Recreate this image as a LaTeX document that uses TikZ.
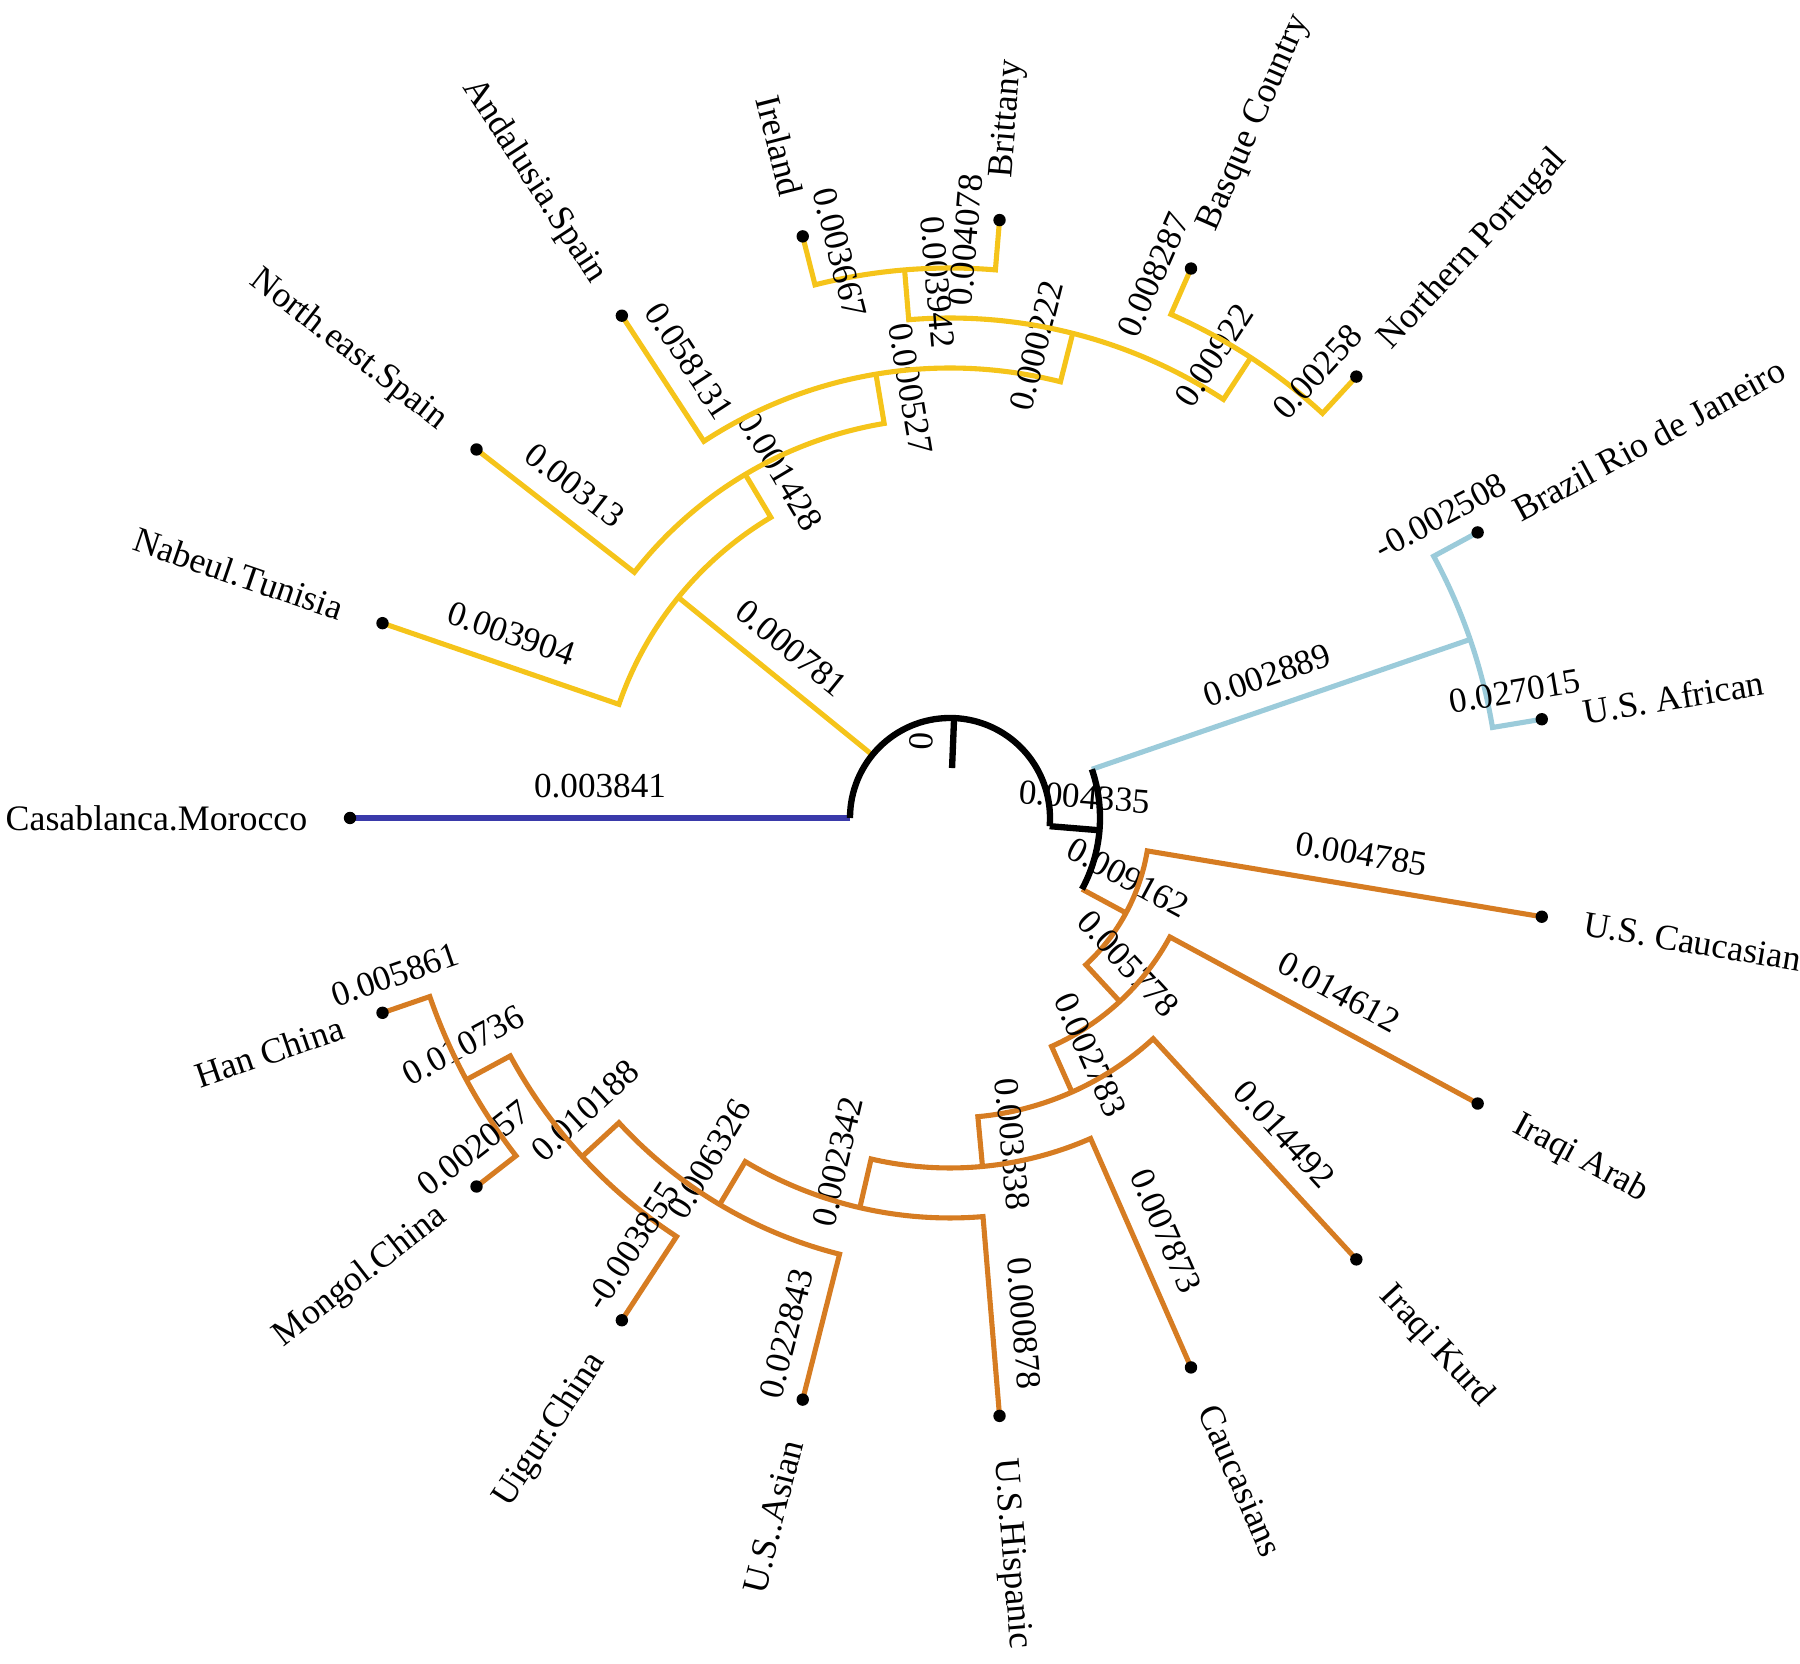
\documentclass[tikz,border=0pt]{standalone}
\usepackage{fontspec}
\setmainfont{Liberation Serif}
\definecolor{treeyellow}{RGB}{245,196,26}
\definecolor{treeorange}{RGB}{214,124,34}
\definecolor{treeltblue}{RGB}{155,203,218}
\definecolor{treedkblue}{RGB}{58,58,170}
\begin{document}
\begin{tikzpicture}[
  brl/.style={font=\fontsize{10}{12}\selectfont, sloped, above, inner sep=0pt, outer sep=0.2cm},
  leafl/.style={font=\fontsize{10.2}{12}\selectfont, inner sep=0pt},
  yel/.style={draw=treeyellow, line width=1.45pt},
  org/.style={draw=treeorange, line width=1.45pt},
  lbl/.style={draw=treeltblue, line width=1.45pt},
  cas/.style={draw=treedkblue, line width=1.6pt},
  blk/.style={draw=black, line width=1.8pt},
  tipdot/.style={fill=black}
]
\useasboundingbox (0,0) rectangle (18,-16.64);
\begin{scope}[shift={(9.5,-8.18)}]
% leaves
\coordinate (L0) at (180:6);
\coordinate (L1) at (161.0526:6);
\coordinate (L2) at (142.1053:6);
\coordinate (L3) at (123.1579:6);
\coordinate (L4) at (104.2105:6);
\coordinate (L5) at (85.2632:6);
\coordinate (L6) at (66.3158:6);
\coordinate (L7) at (47.3684:6);
\coordinate (L8) at (28.4211:6);
\coordinate (L9) at (9.4737:6);
\coordinate (L10) at (-9.4737:6);
\coordinate (L11) at (-28.4211:6);
\coordinate (L12) at (-47.3684:6);
\coordinate (L13) at (-66.3158:6);
\coordinate (L14) at (-85.2632:6);
\coordinate (L15) at (-104.2105:6);
\coordinate (L16) at (-123.1579:6);
\coordinate (L17) at (-142.1053:6);
\coordinate (L18) at (-161.0526:6);
% internal nodes
\coordinate (R) at (87.65:1.0);
\coordinate (R0) at (87.65:0.5);
\coordinate (Y1) at (140.9211:3.5);
\coordinate (Y2) at (120.7895:4.0);
\coordinate (Y3) at (99.4737:4.5);
\coordinate (Y4) at (75.7895:5.0);
\coordinate (Y5) at (94.7368:5.5);
\coordinate (Y6) at (56.8421:5.5);
\coordinate (BL) at (18.9474:5.5);
\coordinate (B2) at (-4.6998:1.5);
\coordinate (O1) at (-28.3470:2.0);
\coordinate (O2) at (-47.2204:2.5);
\coordinate (O3) at (-66.0197:3.0);
\coordinate (O4) at (-84.6711:3.5);
\coordinate (O5) at (-103.0263:4.0);
\coordinate (O6) at (-120.7895:4.5);
\coordinate (O7) at (-137.3684:5.0);
\coordinate (O8) at (-151.5789:5.5);

% root edges
\draw[cas] (180:1) -- node[brl,pos=0.5]{0.003841} (L0);
\draw[yel] (140.9211:1) -- node[brl,pos=0.52]{0.000781} (Y1);
% yellow clade
\draw[yel] (L1) -- node[brl,pos=0.5]{0.003904} (161.0526:3.5) arc[start angle=161.0526, end angle=120.7895, radius=3.5] -- node[brl,pos=0.7]{0.001428} (Y2);
\draw[yel] (L2) -- node[brl,pos=0.5]{0.00313} (142.1053:4.0) arc[start angle=142.1053, end angle=99.4737, radius=4.0] -- node[brl,pos=0.6]{0.000527} (Y3);
\draw[yel] (L3) -- node[brl,pos=0.5]{0.058131} (123.1579:4.5) arc[start angle=123.1579, end angle=75.7895, radius=4.5] -- node[brl,pos=0.58]{0.000222} (Y4);
\draw[yel] (Y5) -- node[brl,pos=0.3]{0.003942} (94.7368:5.0) arc[start angle=94.7368, end angle=56.8421, radius=5.0] -- node[brl,pos=0.64]{0.00922} (Y6);
\draw[yel] (L4) -- node[brl,pos=0.5]{0.003667} (104.2105:5.5) arc[start angle=104.2105, end angle=85.2632, radius=5.5] -- node[brl,pos=0.55]{0.004078} (L5);
\draw[yel] (L6) -- node[brl,pos=0.42]{0.008287} (66.3158:5.5) arc[start angle=66.3158, end angle=47.3684, radius=5.5] -- node[brl,pos=0.54]{0.00258} (L7);

% black part
\draw[lbl] (18.9474:1.5) -- node[brl,pos=0.49]{0.002889} (BL);
\draw[org] (-28.3470:1.5) -- node[brl,pos=0.7]{0.009162} (O1);
\draw[blk] (-4.6998:1) -- node[brl,pos=0.65]{0.004335} (B2);
\draw[blk] (18.9474:1.5) arc[start angle=18.9474, end angle=-28.3470, radius=1.5];
\draw[blk] (180:1) arc[start angle=180, end angle=-4.6998, radius=1];
\draw[blk] (R) -- node[brl,pos=0.5]{0} (R0);

% light blue clade
\draw[lbl] (L8) -- node[brl,pos=0.5]{-0.002508} (28.4211:5.5) arc[start angle=28.4211, end angle=9.4737, radius=5.5] -- node[brl,pos=0.56]{0.027015} (L9);

% orange clade
\draw[org] (L10) -- node[brl,pos=0.47]{0.004785} (-9.4737:2.0) arc[start angle=-9.4737, end angle=-47.2204, radius=2.0] -- node[brl,pos=0.56]{0.005778} (O2);
\draw[org] (L11) -- node[brl,pos=0.5]{0.014612} (-28.4211:2.5) arc[start angle=-28.4211, end angle=-66.0197, radius=2.5] -- node[brl,pos=0.47]{0.002783} (O3);
\draw[org] (L12) -- node[brl,pos=0.47]{0.014492} (-47.3684:3.0) arc[start angle=-47.3684, end angle=-84.6711, radius=3.0] -- node[brl,pos=0.61]{0.003338} (O4);
\draw[org] (L13) -- node[brl,pos=0.54]{0.007873} (-66.3158:3.5) arc[start angle=-66.3158, end angle=-103.0263, radius=3.5] -- node[brl,pos=0.2]{0.002342} (O5);
\draw[org] (L14) -- node[brl,pos=0.45]{0.000878} (-85.2632:4.0) arc[start angle=-85.2632, end angle=-120.7895, radius=4.0] -- node[brl,pos=0.33]{0.006326} (O6);
\draw[org] (L15) -- node[brl,pos=0.4]{0.022843} (-104.2105:4.5) arc[start angle=-104.2105, end angle=-137.3684, radius=4.5] -- node[brl,pos=0.34]{0.010188} (O7);
\draw[org] (L16) -- node[brl,pos=0.68]{-0.003855} (-123.1579:5.0) arc[start angle=-123.1579, end angle=-151.5789, radius=5.0] -- node[brl,pos=0.72]{0.010736} (O8);
\draw[org] (L17) -- node[brl,pos=0.42]{0.002057} (-142.1053:5.5) arc[start angle=-142.1053, end angle=-161.0526, radius=5.5] -- node[brl,pos=0.52]{0.005861} (L18);

% tip dots
\foreach \k in {0,...,18} { \fill[tipdot] (L\k) circle (0.062); }

% tip labels
\node[leafl, anchor=east, rotate=0] at (180:6.42) {Casablanca.Morocco};
\node[leafl, anchor=east, rotate=-18.9474] at (161.0526:6.42) {Nabeul.Tunisia};
\node[leafl, anchor=east, rotate=-37.8947] at (142.1053:6.42) {North.east.Spain};
\node[leafl, anchor=east, rotate=-56.8421] at (123.1579:6.42) {Andalusia.Spain};
\node[leafl, anchor=east, rotate=-75.7895] at (104.2105:6.42) {Ireland};
\node[leafl, anchor=west, rotate=85.2632] at (85.2632:6.42) {Brittany};
\node[leafl, anchor=west, rotate=66.3158] at (66.3158:6.42) {Basque Country};
\node[leafl, anchor=west, rotate=47.3684] at (47.3684:6.42) {Northern Portugal};
\node[leafl, anchor=west, rotate=28.4211] at (28.4211:6.42) {Brazil Rio de Janeiro};
\node[leafl, anchor=west, rotate=9.4737] at (9.4737:6.42) {U.S. African};
\node[leafl, anchor=west, rotate=-9.4737] at (-9.4737:6.42) {U.S. Caucasian};
\node[leafl, anchor=west, rotate=-28.4211] at (-28.4211:6.42) {Iraqi Arab};
\node[leafl, anchor=west, rotate=-47.3684] at (-47.3684:6.42) {Iraqi Kurd};
\node[leafl, anchor=west, rotate=-66.3158] at (-66.3158:6.42) {Caucasians};
\node[leafl, anchor=west, rotate=-85.2632] at (-85.2632:6.42) {U.S.Hispanic};
\node[leafl, anchor=east, rotate=75.7895] at (-104.2105:6.42) {U.S..Asian};
\node[leafl, anchor=east, rotate=56.8421] at (-123.1579:6.42) {Uigur.China};
\node[leafl, anchor=east, rotate=37.8947] at (-142.1053:6.42) {Mongol.China};
\node[leafl, anchor=east, rotate=18.9474] at (-161.0526:6.42) {Han China};
\end{scope}
\end{tikzpicture}
\end{document}
